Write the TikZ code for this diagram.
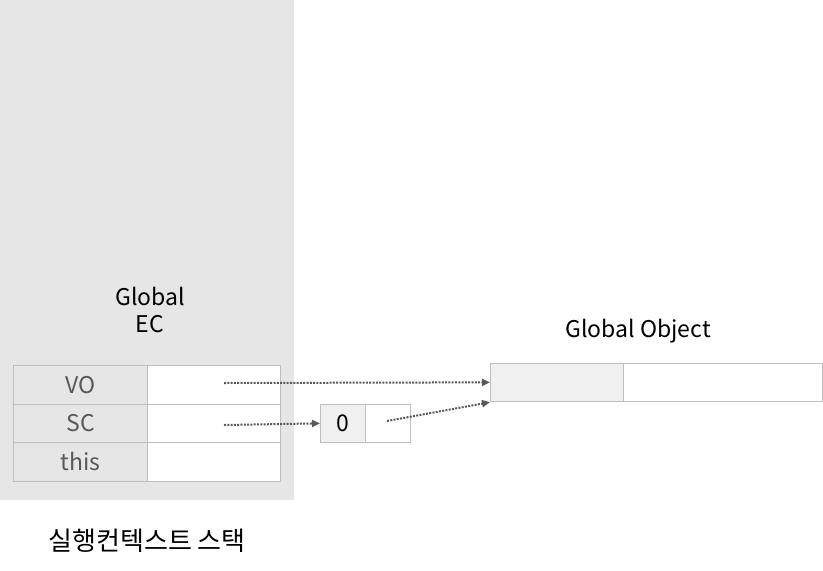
\documentclass[tikz,border=0pt]{standalone}
\usepackage{fontspec}
\setmainfont{Noto Sans CJK KR}
\usetikzlibrary{arrows.meta}
\definecolor{panelgray}{HTML}{E6E6E6}
\definecolor{cellgray}{HTML}{F0F0F0}
\definecolor{edgegray}{HTML}{BFBFBF}
\definecolor{labelgray}{HTML}{595959}
\definecolor{arrowgray}{HTML}{595959}
\tikzset{
  cell/.style={draw=edgegray, line width=1.2pt, minimum height=38.5pt, inner sep=0pt, anchor=north west},
  lbl/.style={font=\fontsize{23}{25}\selectfont, text=labelgray},
  ptr/.style={draw=arrowgray, line width=2pt, dash pattern=on 2pt off 1.3pt, -{Triangle[length=8pt,width=7pt]}},
}
\begin{document}
\begin{tikzpicture}[x=1pt,y=-1pt]
\useasboundingbox (0,0) rectangle (823,571);
\fill[panelgray] (0,0) rectangle (294,500);
\node[font=\fontsize{23}{27}\selectfont, align=center] (ec) at (150,310) {Global\\EC};
% table
\node[cell, fill=panelgray, minimum width=134pt, lbl] (vo) at (13,365) {VO};
\node[cell, fill=white, minimum width=133pt] (vov) at (147,365) {};
\node[cell, fill=panelgray, minimum width=134pt, lbl] (sc) at (13,403.5) {SC};
\node[cell, fill=white, minimum width=133pt] (scv) at (147,403.5) {};
\node[cell, fill=panelgray, minimum width=134pt, lbl] (th) at (13,442) {this};
\node[cell, fill=white, minimum width=133pt] (thv) at (147,442) {};
% scope chain list
\node[cell, fill=cellgray, minimum width=45pt, font=\fontsize{23}{25}\selectfont] (z) at (320,403.5) {0};
\node[cell, fill=white, minimum width=45pt] (zn) at (365,403.5) {};
% global object
\node[font=\fontsize{23}{25}\selectfont] (gotitle) at (638,331) {Global Object};
\node[cell, fill=cellgray, minimum width=133pt] (go) at (490,362.5) {};
\node[cell, fill=white, minimum width=199pt] (gov) at (623,362.5) {};
% pointers
\coordinate (p1) at (224,383);
\coordinate (p2) at (224,425);
\coordinate (p3) at (387,421);
\draw[ptr] (p1) -- (go.west);
\draw[ptr] (p2) -- (z.west);
\draw[ptr] (p3) -- (go.south west);
\node[font=\fontsize{26}{28}\selectfont] (stack) at (147,541) {실행컨텍스트 스택};
\end{tikzpicture}
\end{document}
